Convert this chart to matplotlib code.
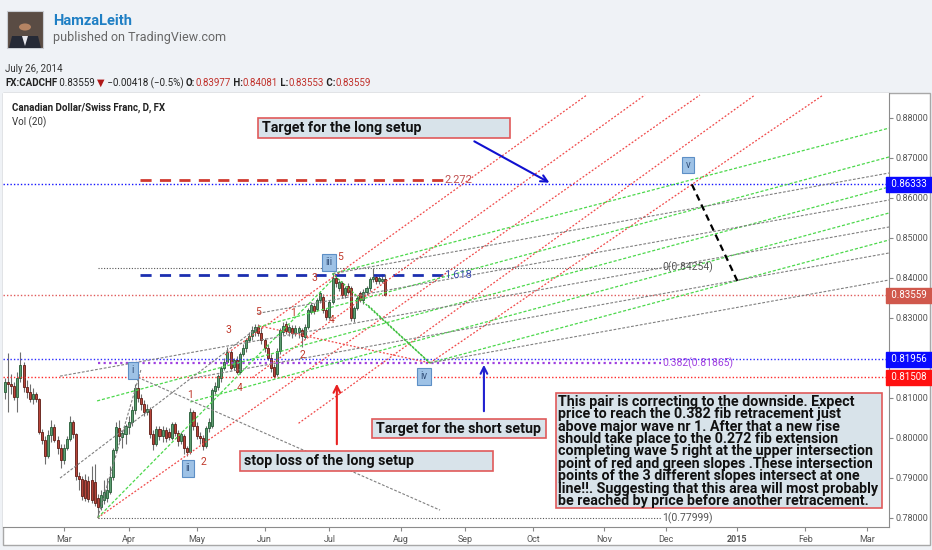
import matplotlib
matplotlib.use('Agg')
import matplotlib.pyplot as plt
from matplotlib import font_manager as fm
from matplotlib.patches import Rectangle, Circle, Polygon
from matplotlib.transforms import blended_transform_factory
import pandas as pd

# ---------------- data ----------------
# FX:CADCHF daily candles, 2014-02-04 .. 2014-07-25 (one value per trading day)
first_day = '2014-02-04'
last_axis_day = '2015-03-13'

opens = [0.8115, 0.8140, 0.8135, 0.8130, 0.8103, 0.8150, 0.8182, 0.8128, 0.8115, 0.8098,
         0.8110, 0.8098, 0.8015, 0.7995, 0.7955, 0.8008, 0.8028, 0.7995, 0.7975, 0.7945,
         0.7975, 0.7998, 0.8040, 0.8010, 0.7905, 0.7898, 0.7895, 0.7893, 0.7895, 0.7890,
         0.7850, 0.7828, 0.7845, 0.7850, 0.7865, 0.7903, 0.7970, 0.8025, 0.8003, 0.8010,
         0.8028, 0.8040, 0.8070, 0.8125, 0.8100, 0.8085, 0.8065, 0.8072, 0.8010, 0.7985,
         0.8022, 0.8005, 0.8020, 0.8015, 0.8000, 0.8035, 0.8012, 0.7992, 0.8005, 0.7975,
         0.7965, 0.8065, 0.8030, 0.8005, 0.8000, 0.7980, 0.8025, 0.8030, 0.8118, 0.8128,
         0.8150, 0.8175, 0.8190, 0.8215, 0.8178, 0.8195, 0.8165, 0.8210, 0.8225, 0.8245,
         0.8255, 0.8265, 0.8278, 0.8262, 0.8244, 0.8225, 0.8200, 0.8178, 0.8160, 0.8218,
         0.8265, 0.8285, 0.8265, 0.8275, 0.8262, 0.8265, 0.8270, 0.8253, 0.8278, 0.8315,
         0.8330, 0.8323, 0.8344, 0.8353, 0.8319, 0.8303, 0.8340, 0.8400, 0.8375, 0.8386,
         0.8357, 0.8380, 0.8375, 0.8300, 0.8325, 0.8361, 0.8345, 0.8365, 0.8375, 0.8398,
         0.8403, 0.8392, 0.8392, 0.83977]
highs = [0.8150, 0.8212, 0.8160, 0.8140, 0.8165, 0.8215, 0.8190, 0.8145, 0.8135, 0.8125,
         0.8115, 0.8100, 0.8022, 0.8005, 0.8020, 0.8045, 0.8035, 0.8005, 0.7985, 0.7985,
         0.8005, 0.8055, 0.8045, 0.8012, 0.7915, 0.7905, 0.7910, 0.7905, 0.7930, 0.7935,
         0.7860, 0.7870, 0.7895, 0.7900, 0.7930, 0.7975, 0.8040, 0.8045, 0.8020, 0.8035,
         0.8055, 0.8080, 0.8135, 0.81508, 0.8110, 0.8095, 0.8085, 0.8078, 0.8020, 0.8030,
         0.8030, 0.8030, 0.8028, 0.8025, 0.8040, 0.8040, 0.8020, 0.8015, 0.8010, 0.7980,
         0.8075, 0.8070, 0.8040, 0.8015, 0.8008, 0.8030, 0.8050, 0.8125, 0.8140, 0.8160,
         0.8180, 0.8200, 0.8228, 0.8220, 0.8200, 0.8205, 0.8215, 0.8235, 0.8250, 0.8265,
         0.8280, 0.8285, 0.8285, 0.8278, 0.8250, 0.8235, 0.8210, 0.8185, 0.8225, 0.8275,
         0.8290, 0.8292, 0.8285, 0.8282, 0.8282, 0.8280, 0.8275, 0.8285, 0.8325, 0.8340,
         0.8338, 0.8350, 0.8368, 0.8360, 0.8325, 0.8345, 0.8410, 0.8405, 0.8395, 0.8392,
         0.8380, 0.8388, 0.8380, 0.8330, 0.8355, 0.8368, 0.8372, 0.8380, 0.8402, 0.84254,
         0.8410, 0.8408, 0.8410, 0.84081]
lows = [0.8098, 0.8064, 0.8110, 0.8095, 0.8065, 0.8140, 0.8115, 0.8100, 0.8090, 0.8085,
        0.8090, 0.8010, 0.7985, 0.7935, 0.7950, 0.7990, 0.7990, 0.7960, 0.7925, 0.7935,
        0.7970, 0.7992, 0.8000, 0.7895, 0.7870, 0.7845, 0.7842, 0.7840, 0.7838, 0.7830,
        0.77999, 0.7820, 0.7835, 0.7840, 0.7860, 0.7895, 0.7965, 0.7990, 0.7975, 0.7985,
        0.8010, 0.8030, 0.8060, 0.8090, 0.8070, 0.8055, 0.8058, 0.8000, 0.7970, 0.7980,
        0.7995, 0.7990, 0.7990, 0.7995, 0.7995, 0.8005, 0.7980, 0.7985, 0.7960, 0.7955,
        0.7960, 0.8020, 0.7998, 0.7985, 0.7970, 0.7975, 0.8015, 0.8025, 0.8110, 0.8120,
        0.8140, 0.8170, 0.8185, 0.8170, 0.8170, 0.8160, 0.8160, 0.8205, 0.8215, 0.8240,
        0.8245, 0.8255, 0.8255, 0.8235, 0.8215, 0.8195, 0.8165, 0.8150, 0.8155, 0.8210,
        0.8258, 0.8260, 0.8255, 0.8250, 0.8255, 0.8250, 0.8228, 0.8248, 0.8272, 0.8310,
        0.8310, 0.8318, 0.8338, 0.8312, 0.8295, 0.8298, 0.8335, 0.8378, 0.8368, 0.8350,
        0.8350, 0.8360, 0.8292, 0.8290, 0.8320, 0.8340, 0.8335, 0.8358, 0.8368, 0.8390,
        0.8385, 0.8385, 0.8388, 0.83553]
closes = [0.8140, 0.8135, 0.8130, 0.8103, 0.8150, 0.8182, 0.8128, 0.8115, 0.8098, 0.8110,
          0.8098, 0.8015, 0.7995, 0.7955, 0.8008, 0.8028, 0.7995, 0.7975, 0.7945, 0.7975,
          0.7998, 0.8040, 0.8010, 0.7905, 0.7898, 0.7855, 0.7850, 0.7848, 0.7845, 0.7836,
          0.7828, 0.7858, 0.7865, 0.7870, 0.7903, 0.7970, 0.8028, 0.8005, 0.8012, 0.8030,
          0.8040, 0.8070, 0.8125, 0.8100, 0.8085, 0.8065, 0.8072, 0.8010, 0.7985, 0.8022,
          0.8005, 0.8020, 0.8000, 0.8002, 0.8035, 0.8012, 0.7992, 0.8010, 0.7975, 0.7965,
          0.8065, 0.8030, 0.8005, 0.8000, 0.7980, 0.8025, 0.8040, 0.8120, 0.8130, 0.8155,
          0.8175, 0.8190, 0.8215, 0.8175, 0.8195, 0.8165, 0.8210, 0.8225, 0.8245, 0.8255,
          0.8270, 0.8278, 0.8262, 0.8244, 0.8225, 0.8200, 0.8175, 0.8155, 0.8218, 0.8270,
          0.8280, 0.8268, 0.8278, 0.8262, 0.8275, 0.8274, 0.8255, 0.8278, 0.8320, 0.8332,
          0.8316, 0.8344, 0.8361, 0.8319, 0.8303, 0.8340, 0.8400, 0.8386, 0.8390, 0.8357,
          0.8375, 0.8365, 0.8300, 0.8325, 0.8350, 0.8345, 0.8365, 0.8375, 0.8398, 0.8403,
          0.8392, 0.8400, 0.83977, 0.83559]

# price scale ticks (0.82 is hidden behind the 0.81956 marker)
price_ticks = [0.78, 0.79, 0.80, 0.81, 0.83, 0.84, 0.85, 0.86, 0.87, 0.88]

# horizontal price lines with their axis labels
level_prices = [0.86333, 0.83559, 0.81956, 0.81508]
level_colors = ['#1414ff', '#e05a5a', '#2b2bff', '#ff2a2a']
label_colors = ['#0a0aff', '#d0584c', '#0a0aff', '#ff1010']

# fib retracement (low -> high) and fib extension levels
fib_start, fib_end = 30, 212.3
fib_levels = [(0.84254, '0(0.84254)'), (0.81865, '0.382(0.81865)'), (0.77999, '1(0.77999)')]
ext_start, ext_end = 43.7, 141.8
ext_levels = [(0.8645, '2.272'), (0.8406, '1.618')]

# parallel channels: (bar0, price0, bar1, price1)
red_lines = [(71.2, 0.8207, 188.3, 0.88568), (80.0, 0.8150, 207.1, 0.88568),
             (30.0, 0.77999, 224.9, 0.88568), (95.0, 0.8036, 242.7, 0.88568),
             (137.5, 0.8187, 264.8, 0.88568), (82.0, 0.8280, 137.5, 0.8187)]
green_lines = [(106.0, 0.8410, 286.1, 0.87740), (82.0, 0.8277, 286.1, 0.87018),
               (29.8, 0.8092, 286.1, 0.86268), (60.0, 0.80893, 286.1, 0.85618),
               (137.5, 0.8187, 286.1, 0.84943), (30.0, 0.77999, 106.0, 0.8395)]
gray_lines = [(106.0, 0.8410, 286.1, 0.86618), (82.0, 0.8311, 286.1, 0.85943),
              (17.8, 0.8154, 286.1, 0.85268), (60.0, 0.8148, 286.1, 0.84618),
              (137.5, 0.8187, 286.1, 0.83943), (30.0, 0.77999, 44.0, 0.8170),
              (43.0, 0.81508, 140.8, 0.7819), (17.8, 0.7899, 82.0, 0.8277)]
path_lines = [(106.0, 0.8410, 137.5, 0.8187), (117.5, 0.8331, 137.5, 0.8187)]
wave5_line = (222.3, 0.86333, 237.2, 0.8389)

# wave labels
major_waves = [(41.4, 0.8169, 'i'), (59.2, 0.7924, 'ii'), (104.9, 0.8439, 'iii'),
               (135.6, 0.8154, 'iv'), (221.0, 0.8682, 'v')]
minor_waves = [(59.9, 0.8107, '1'), (64.1, 0.7939, '2'), (72.2, 0.8269, '3'),
               (76.0, 0.8124, '4'), (81.9, 0.8314, '5'), (93.2, 0.8312, '1'),
               (96.4, 0.8207, '2'), (100.3, 0.8399, '3'), (105.8, 0.8294, '4'),
               (108.4, 0.8451, '5')]

# note boxes: (bar0, bar1, price_low, price_high, text)
notes = [(81.9, 163.4, 0.87493, 0.87993, 'Target for the long setup'),
         (118.8, 175.1, 0.79993, 0.80468, 'Target for the short setup'),
         (76.0, 157.9, 0.79168, 0.79668, 'stop loss of the long setup')]
big_note = (178.3, 283.8, 0.78243, 0.81118)
big_note_lines = [
    "This pair is correcting to the downside. Expect",
    "price to reach the 0.382 fib retracement just",
    "above major wave nr 1. After that a new rise",
    "should take place to the 0.272 fib extension",
    "completing wave 5 right at the upper intersection",
    "point of red and green slopes .These intersection",
    "points of the 3 different slopes intersect at one",
    "line!!. Suggesting that this area will most probably",
    "be reached by price before another retracement.",
]
# arrows: (bar_from, price_from, bar_to, price_to, colour)
arrows = [(151.1, 0.87443, 177.0, 0.86343, '#1010d0'),
          (107.4, 0.79768, 107.4, 0.81418, '#e82020'),
          (155.0, 0.80593, 155.0, 0.81893, '#2020d0')]

# ---------------- fonts ----------------
avail = {f.name for f in fm.fontManager.ttflist}
fams = [f for f in ['Liberation Sans Narrow', 'Roboto'] if f in avail] + ['DejaVu Sans']
plt.rcParams['font.family'] = fams

W, H = 932, 550
fig = plt.figure(figsize=(W / 100, H / 100), dpi=100, facecolor='#eff2f6')

# header
fig.patches.append(Rectangle((7 / W, 1 - 48 / H), 36 / W, 37 / H, transform=fig.transFigure,
                             fc='#5a4c44', ec='#c8ccd2', lw=0.8))
fig.patches.append(Polygon([(9 / W, 1 - 48 / H), (41 / W, 1 - 48 / H), (38 / W, 1 - 36 / H),
                            (12 / W, 1 - 36 / H)], closed=True, transform=fig.transFigure,
                           fc='#262a36'))
fig.patches.append(Polygon([(22 / W, 1 - 36 / H), (28 / W, 1 - 36 / H), (25 / W, 1 - 46 / H)],
                           closed=True, transform=fig.transFigure, fc='#e8e8ee'))
fig.patches.append(Circle((25 / W, 1 - 27 / H), 6 / W, transform=fig.transFigure, fc='#b58463'))
fig.text(53 / W, 1 - 21 / H, 'HamzaLeith', fontsize=10.5, fontweight='bold',
         color='#1f7fc4', va='center')
fig.text(53 / W, 1 - 37 / H, 'published on TradingView.com', fontsize=9, color='#666666',
         va='center')
fig.text(5 / W, 1 - 69 / H, 'July 26, 2014', fontsize=7, color='#333333', va='center')

hdr = fig.add_axes([0, 0, 1, 1])
hdr.axis('off')
pieces = [('FX:CADCHF', 'bold', '#222222'), (' 0.83559 ', 'normal', '#222222'),
          ('\u25bc', 'normal', '#b01818'), (' \u22120.00418 (\u22120.5%) ', 'normal', '#222222'),
          ('O:', 'bold', '#222222'), ('0.83977', 'normal', '#c0302a'),
          (' H:', 'bold', '#222222'), ('0.84081', 'normal', '#c0302a'),
          (' L:', 'bold', '#222222'), ('0.83553', 'normal', '#c0302a'),
          (' C:', 'bold', '#222222'), ('0.83559', 'normal', '#c0302a')]
prev = hdr.text(5 / W, 1 - 83 / H, pieces[0][0], fontsize=7, fontweight=pieces[0][1],
                color=pieces[0][2], va='center', family=fams)
for txt, wt, col in pieces[1:]:
    prev = hdr.annotate(txt, xy=(1, 0.5), xycoords=prev, va='center', ha='left',
                        fontsize=7, fontweight=wt, color=col, family=fams)

# chart frame (behind the axes)
fig.patches.append(Rectangle((3 / W, 5 / H), 927 / W, 452 / H, transform=fig.transFigure,
                             fc='white', ec='#a8a8a8', lw=1, zorder=-1))

ax = fig.add_axes([3 / W, 23 / H, 886 / W, 434 / H])
ax.set_facecolor('white')
ax.set_xlim(-0.65, 286.1)
ax.set_ylim(0.77768, 0.88618)

# candles
n = len(closes)
idx = list(range(n))
up = [c >= o for o, c in zip(opens, closes)]
ax.vlines(idx, lows, highs, color='#6e6e6e', lw=0.8, zorder=2)
ax.bar(idx, [abs(c - o) for o, c in zip(opens, closes)],
       bottom=[min(o, c) for o, c in zip(opens, closes)], width=0.66,
       color=['#5f9e72' if u else '#b8453a' for u in up],
       edgecolor=['#235a35' if u else '#5e1b14' for u in up], lw=0.6, zorder=3)

# horizontal levels
for p, c in zip(level_prices, level_colors):
    ax.axhline(p, color=c, lw=1.0, ls=(0, (1, 1.5)), zorder=4)
tr = blended_transform_factory(ax.transAxes, ax.transData)
for p, c in zip(level_prices, label_colors):
    ax.text(1.0, p, ' %.5f ' % p, transform=tr, ha='left', va='center', fontsize=7,
            color='white', bbox=dict(boxstyle='square,pad=0.28', fc=c, ec=c),
            clip_on=False, zorder=10)

# fib retracement
fib_cols = ['#555555', '#a040e0', '#555555']
for (p, lab), c in zip(fib_levels, fib_cols):
    lw = 1.6 if c == '#a040e0' else 0.8
    ax.plot([fib_start, fib_end], [p, p], color=c, lw=lw, ls=(0, (1, 1.5)), zorder=4)
    ax.text(fib_end + 0.3, p, lab, color=c, fontsize=7.5, va='center', ha='left', zorder=6)

# fib extension
for (p, lab), c, tc in zip(ext_levels, ['#d03a30', '#1c2fb0'], ['#c05050', '#4050b0']):
    ax.plot([ext_start, ext_end], [p, p], color=c, lw=2.0, ls=(0, (4, 3)), zorder=4)
    ax.text(ext_end + 0.3, p, lab, color=tc, fontsize=8, va='center', ha='left', zorder=6)

# channels
for b0, p0, b1, p1 in red_lines:
    ax.plot([b0, b1], [p0, p1], color='#f04848', lw=0.9, ls=(0, (1.5, 1.5)), zorder=4)
for b0, p0, b1, p1 in green_lines:
    ax.plot([b0, b1], [p0, p1], color='#4cd84c', lw=0.9, ls=(0, (2.5, 1.5)), zorder=4)
for b0, p0, b1, p1 in gray_lines:
    ax.plot([b0, b1], [p0, p1], color='#808080', lw=0.8, ls=(0, (2.5, 1.5)), zorder=4)
for b0, p0, b1, p1 in path_lines:
    ax.plot([b0, b1], [p0, p1], color='#3cbf3c', lw=1.0, ls=(0, (1.5, 1.2)), zorder=4)
b0, p0, b1, p1 = wave5_line
ax.plot([b0, b1], [p0, p1], color='black', lw=1.6, ls=(0, (3, 2)), zorder=5)

# arrows
for b0, p0, b1, p1, c in arrows:
    ax.annotate('', xy=(b1, p1), xytext=(b0, p0),
                arrowprops=dict(arrowstyle='->', color=c, lw=1.5, mutation_scale=12), zorder=7)

# wave labels
for b, p, t in major_waves:
    ax.text(b, p, t, ha='center', va='center', fontsize=7, color='#33507a', zorder=8,
            bbox=dict(boxstyle='square,pad=0.35', fc='#9ec2e6', ec='#5d8fc6', lw=0.8))
for b, p, t in minor_waves:
    ax.text(b, p, t, ha='center', va='center', fontsize=7.5, color='#c0392b', zorder=8)

# notes
pt = 72 / 100
note_size = 10.3
for b0, b1, plo, phi, t in notes:
    ax.add_patch(Rectangle((b0, plo), b1 - b0, phi - plo, fc='#d8e3ea', ec='#e05a5a',
                           lw=1.2, zorder=8))
    ax.annotate(t, xy=(b0, (plo + phi) / 2), xytext=(4 * pt, 0), textcoords='offset points',
                va='center', ha='left', fontsize=note_size, fontweight='bold',
                color='#111111', zorder=9)
b0, b1, plo, phi = big_note
ax.add_patch(Rectangle((b0, plo), b1 - b0, phi - plo, fc='#d8e3ea', ec='#e05a5a',
                       lw=1.2, zorder=8))
for k, line in enumerate(big_note_lines):
    ax.annotate(line, xy=(b0, phi), xytext=(2.5 * pt, -(8.7 + 12.4 * k) * pt),
                textcoords='offset points', va='center', ha='left', fontsize=note_size,
                fontweight='bold', color='#111111', zorder=9)

# chart title
ax.annotate('Canadian Dollar/Swiss Franc, D, FX', xy=(0, 1), xycoords='axes fraction',
            xytext=(9 * pt, -15 * pt), textcoords='offset points', fontsize=7,
            fontweight='bold', color='#222222', va='center')
ax.annotate('Vol (20)', xy=(0, 1), xycoords='axes fraction', xytext=(9 * pt, -29 * pt),
            textcoords='offset points', fontsize=7, color='#333333', va='center')

# axes styling
days = pd.bdate_range(first_day, last_axis_day)
ticks, labels = [], []
for k in range(1, len(days)):
    if days[k].month != days[k - 1].month:
        ticks.append(k)
        labels.append(str(days[k].year) if days[k].month == 1 else days[k].strftime('%b'))
ax.set_xticks(ticks)
ax.set_xticklabels(labels)
for lab in ax.get_xticklabels():
    if lab.get_text().isdigit():
        lab.set_fontweight('bold')
ax.tick_params(axis='x', length=3, color='#888888', labelsize=6.5, labelcolor='#555555', pad=3)
ax.yaxis.tick_right()
ax.set_yticks(price_ticks)
ax.set_yticklabels(['%.5f' % v for v in price_ticks])
ax.tick_params(axis='y', length=3, color='#888888', labelsize=6.5, labelcolor='#555555', pad=2)
ax.spines['top'].set_visible(False)
ax.spines['left'].set_visible(False)
ax.spines['right'].set_color('#8c8c8c')
ax.spines['bottom'].set_color('#8c8c8c')

fig.savefig('out.png', dpi=100, facecolor=fig.get_facecolor())
